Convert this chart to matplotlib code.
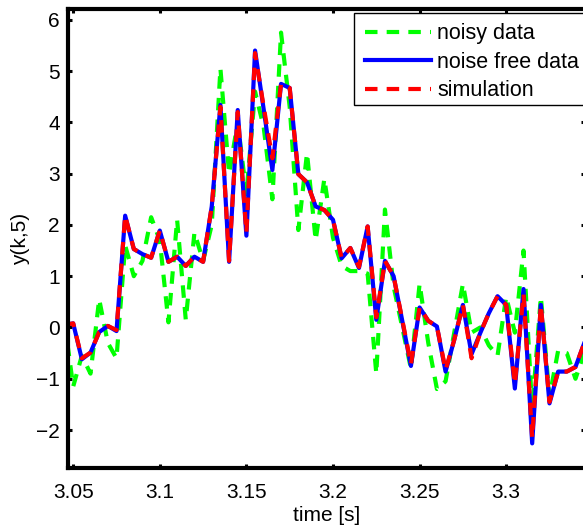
import numpy as np
import matplotlib
matplotlib.use("Agg")
import matplotlib.pyplot as plt
from matplotlib.patches import Rectangle

# sample times (s)
t_start = 3.045
t_step = 0.005
n_samples = 61
time = t_start + t_step * np.arange(n_samples)

noise_free = [
    0.05, 0.08, -0.62, -0.49, -0.09, 0.03, -0.07, 2.18, 1.53, 1.43,
    1.36, 1.89, 1.28, 1.38, 1.20, 1.38, 1.28, 2.36, 4.34, 1.28,
    4.24, 1.79, 5.40, 4.25, 3.07, 4.75, 4.67, 2.99, 2.83, 2.36,
    2.29, 2.10, 1.35, 1.55, 1.16, 1.97, 0.15, 1.30, 1.00, 0.13,
    -0.75, 0.39, 0.13, 0.02, -0.86, -0.24, 0.44, -0.52, -0.11, 0.28,
    0.61, 0.44, -1.19, 0.75, -2.26, 0.44, -1.48, -0.86, -0.86, -0.77,
    -0.31,
]

simulation = [
    0.05, 0.08, -0.60, -0.49, -0.09, 0.03, -0.05, 2.18, 1.53, 1.43,
    1.36, 1.89, 1.28, 1.38, 1.20, 1.38, 1.28, 2.36, 4.30, 1.30,
    4.20, 1.85, 5.35, 4.30, 3.30, 4.75, 4.67, 2.99, 2.83, 2.36,
    2.29, 2.10, 1.35, 1.55, 1.18, 1.97, 0.20, 1.30, 1.00, 0.15,
    -0.72, 0.39, 0.13, 0.02, -0.83, -0.24, 0.44, -0.60, -0.11, 0.28,
    0.61, 0.44, -1.10, 0.65, -2.15, 0.44, -1.45, -0.86, -0.86, -0.77,
    -0.31,
]

noisy = [
    0.10, -1.15, -0.55, -0.90, 0.55, -0.30, -0.60, 1.60, 1.00, 1.30,
    2.15, 1.70, 0.10, 2.10, 0.15, 1.85, 1.30, 2.00, 5.05, 3.00,
    4.00, 2.60, 4.60, 3.90, 2.50, 5.75, 4.30, 1.90, 3.40, 1.70,
    2.90, 1.75, 1.20, 1.10, 1.10, 1.05, -0.90, 2.30, 0.80, 0.00,
    -0.80, 0.85, -0.30, -1.20, -1.05, -0.10, 0.85, -0.10, 0.00, -0.35,
    -0.55, 0.60, -0.10, 1.50, -1.60, 0.60, -1.35, -0.45, -0.50, -1.00,
    -0.50,
]

labels = ["noisy data", "noise free data", "simulation"]

plt.rcParams['font.family'] = ['Liberation Sans', 'DejaVu Sans']

W, H = 583, 529
fig = plt.figure(figsize=(W / 100, H / 100), dpi=100)
ax = fig.add_axes([68 / W, 1 - 468 / H, (585 - 68) / W, (468 - 9) / H])

lw = 3.0
ax.plot(time, noisy, color=(0, 1, 0), lw=lw, dashes=(3.0, 2.2),
        solid_capstyle='butt', dash_capstyle='butt', label=labels[0])
ax.plot(time, noise_free, color=(0, 0, 1), lw=lw, solid_joinstyle='round',
        label=labels[1])
ax.plot(time, simulation, color=(1, 0, 0), lw=lw, dashes=(3.0, 2.2),
        dash_capstyle='butt', label=labels[2])

ax.set_xlim(3.047, 3.3455)
ax.set_ylim(-2.74, 6.21)
ax.set_xticks([3.05, 3.1, 3.15, 3.2, 3.25, 3.3])
ax.set_xticklabels(["3.05", "3.1", "3.15", "3.2", "3.25", "3.3"])
ax.set_yticks([-2, -1, 0, 1, 2, 3, 4, 5, 6])
ax.set_yticklabels(["\u22122", "\u22121", "0", "1", "2", "3", "4", "5", "6"])

for s in ax.spines.values():
    s.set_linewidth(3.0)
ax.tick_params(direction='in', length=3, width=2.2, top=True, right=True,
               labelsize=15)
ax.tick_params(axis='x', pad=11)
ax.tick_params(axis='y', pad=6)
ax.set_xlabel("time [s]", fontsize=15, labelpad=3)
ax.set_ylabel("y(k,5)", fontsize=15, labelpad=4)

# legend frame (drawn separately for exact box extent)
frame = Rectangle((354 / W, 1 - 105 / H), (600 - 354) / W, (105 - 12.7) / H,
                  transform=fig.transFigure, facecolor='white',
                  edgecolor='black', lw=1.0, zorder=4.5, clip_on=False)
ax.add_patch(frame)

leg = ax.legend(loc='upper left', bbox_to_anchor=(354 / W, 1 - 12.5 / H),
                bbox_transform=fig.transFigure, fontsize=15.5,
                handlelength=3.1, handletextpad=0.28, labelspacing=0.35,
                borderpad=0.49, borderaxespad=0, frameon=False)
leg.set_zorder(5)

fig.savefig("out.png", dpi=100)
